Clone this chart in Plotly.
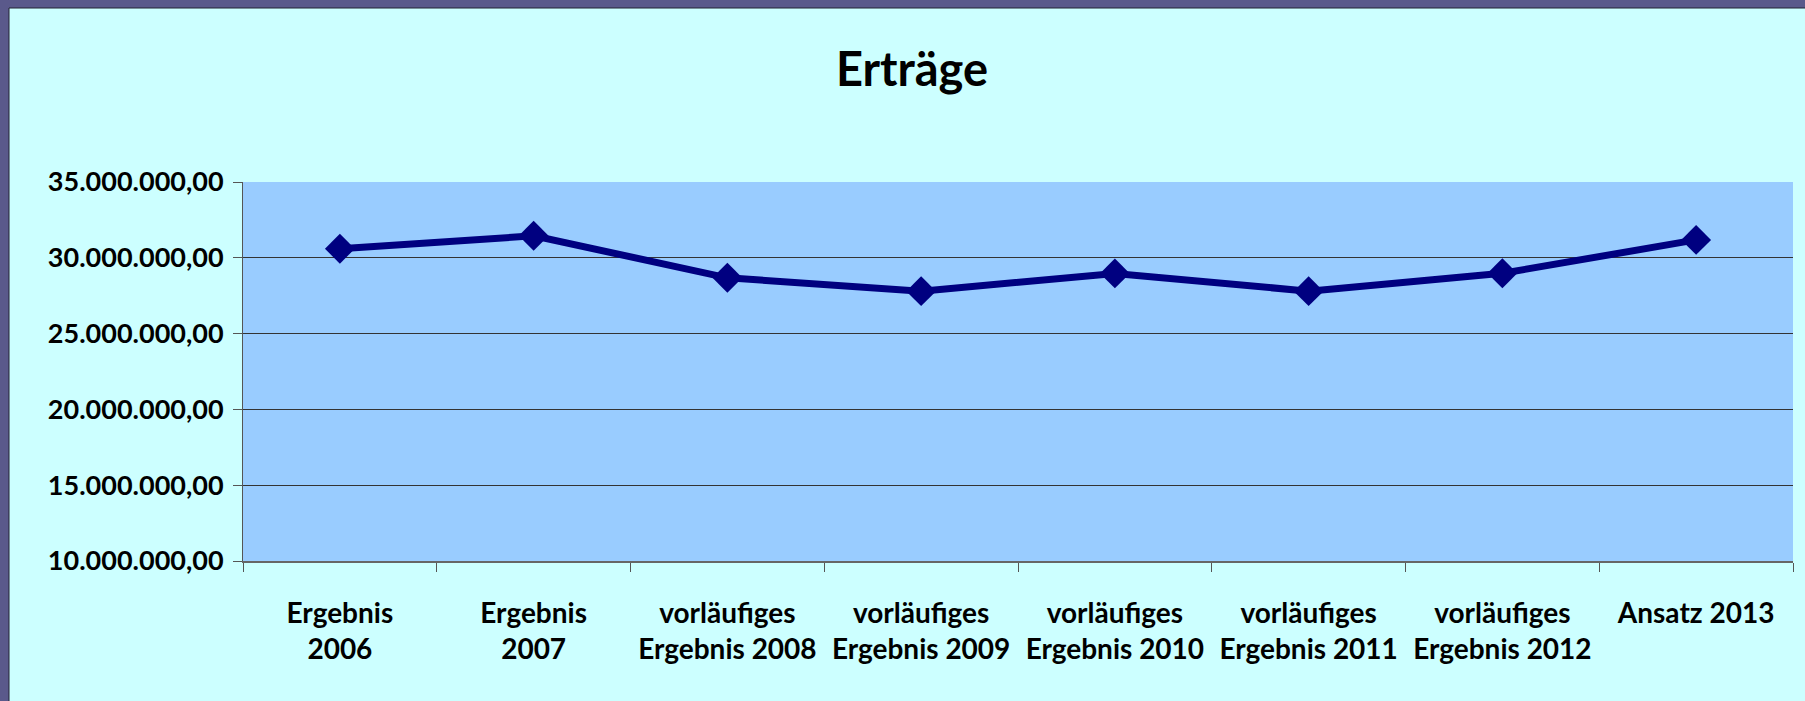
import plotly.graph_objects as go

categories = [
    "Ergebnis<br>2006",
    "Ergebnis<br>2007",
    "vorläufiges<br>Ergebnis 2008",
    "vorläufiges<br>Ergebnis 2009",
    "vorläufiges<br>Ergebnis 2010",
    "vorläufiges<br>Ergebnis 2011",
    "vorläufiges<br>Ergebnis 2012",
    "Ansatz 2013",
]
values = [30600000, 31450000, 28680000, 27800000, 28970000, 27800000, 28980000, 31180000]
y_ticks = [10000000, 15000000, 20000000, 25000000, 30000000, 35000000]

W, H = 1805, 701
L, R, T, B = 243, W - 1793, 182, H - 561
pw, ph = W - L - R, H - T - B

def px_x(p):
    return (p - L) / pw

def px_y(p):
    return (H - B - p) / ph

FONT = "Lato"

def de(v):
    return f"{v:,.2f}".replace(",", "X").replace(".", ",").replace("X", ".")

fig = go.Figure()
fig.add_trace(go.Scatter(
    x=categories, y=values, mode="lines+markers",
    line=dict(color="#000080", width=7),
    marker=dict(symbol="diamond", size=23, color="#000080"),
    showlegend=False,
))

# cyan chart area and blue plot area
fig.add_shape(type="rect", xref="paper", yref="paper",
              x0=px_x(9), x1=px_x(W + 20), y0=px_y(H + 20), y1=px_y(8),
              fillcolor="#CCFFFF", line=dict(color="#222233", width=1), layer="below")
fig.add_shape(type="rect", xref="paper", yref="paper",
              x0=0, x1=1, y0=0, y1=1,
              fillcolor="#99CCFF", line=dict(width=0), layer="below")

fig.update_layout(
    width=W, height=H,
    margin=dict(l=L, r=R, t=T, b=B, pad=0),
    paper_bgcolor="#5A598B",
    plot_bgcolor="rgba(0,0,0,0)",
    font=dict(family=FONT, color="black"),
    title=dict(text="<b>Erträge</b>", x=912 / W, xanchor="center",
               y=1 - 70 / H, yanchor="middle", yref="container",
               font=dict(family=FONT, size=47, color="black")),
    xaxis=dict(
        type="category", tickmode="array", tickvals=categories,
        ticktext=[f"<b>{c}</b>" for c in categories],
        tickangle=0, ticks="outside", ticklen=9, tickcolor="#555555", tickwidth=1,
        tickson="boundaries", showline=True, linecolor="#666666", linewidth=2,
        showgrid=False, tickfont=dict(family=FONT, size=28, color="black"),
        ticklabelstandoff=26, range=[-0.5, 7.5], automargin=False,
    ),
    yaxis=dict(
        range=[10000000, 35000000], tickmode="array", tickvals=y_ticks,
        ticktext=[f"<b>{de(v)}</b>" for v in y_ticks],
        ticks="outside", ticklen=9, tickcolor="#555555", tickwidth=1,
        showline=True, linecolor="#555555", linewidth=1,
        showgrid=True, gridcolor="#333333", gridwidth=1, zeroline=False,
        tickfont=dict(family=FONT, size=27, color="black"), ticklabelstandoff=4,
        automargin=False,
    ),
)

fig.write_html(
    "out.html",
    config={"displayModeBar": False},
    post_script="document.body.style.margin='0';document.body.style.background='#5A598B';",
)
